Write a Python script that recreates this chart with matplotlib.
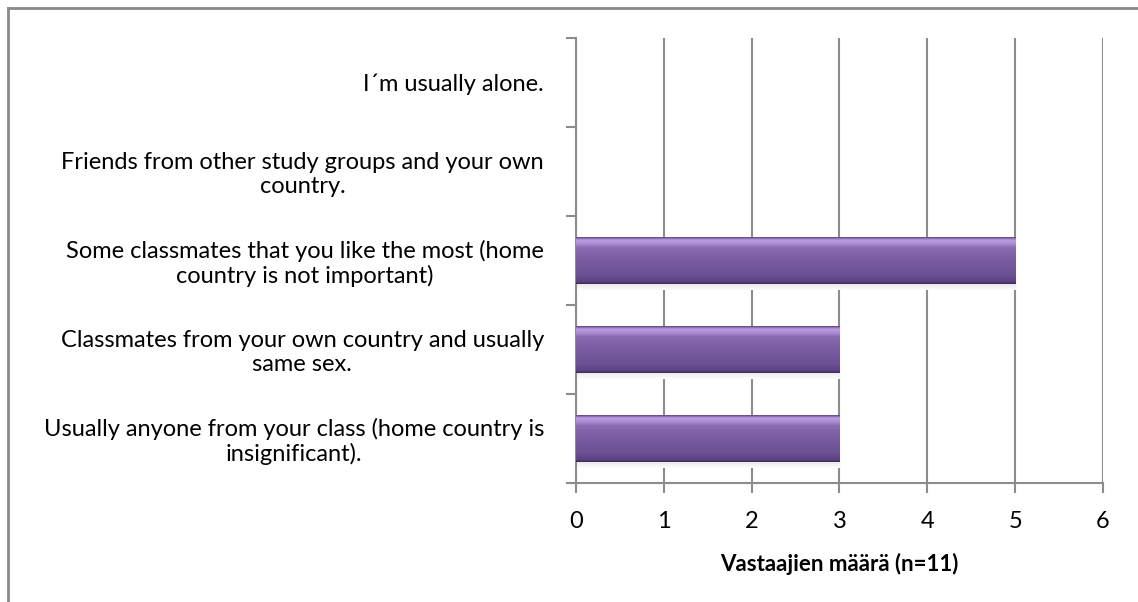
import numpy as np
import matplotlib.pyplot as plt
from matplotlib.lines import Line2D
from matplotlib.colors import LinearSegmentedColormap

# vastausvaihtoehdot (alhaalta ylös) ja vastaajien määrä
vaihtoehdot = [
    "Usually anyone from your class (home country is\ninsignificant).",
    "Classmates from your own country and usually\nsame sex.",
    "Some classmates that you like the most (home\ncountry is not important)",
    "Friends from other study groups and your own\ncountry.",
    "I´m usually alone.",
]
maarat = [3, 3, 5, 0, 0]
xtiks = [0, 1, 2, 3, 4, 5, 6]

plt.rcParams['font.family'] = ['Lato', 'DejaVu Sans']
harmaa = '#8c8c8c'

fig = plt.figure(figsize=(11.38, 6.02), dpi=100)
ax = fig.add_axes([0.506, 0.1977, 0.4632, 0.7392])

y = np.arange(len(vaihtoehdot))
palkit = ax.barh(y, maarat, height=0.52, color='#7b5ca3', zorder=3)

# liukuväri palkkeihin: tumma reuna, vaalea kaistale ylhäällä, tummempi alaosa
liuku = LinearSegmentedColormap.from_list('violetti', [
    (0.0, '#3e2b58'), (0.05, '#5c4382'), (0.2, '#6c5193'), (0.55, '#7b5da4'),
    (0.78, '#8a6cb4'), (0.86, '#ab8dd4'), (0.94, '#bb9de2'), (0.97, '#8f72b8'),
    (1.0, '#5d4684')])
grad = np.linspace(0, 1, 200).reshape(-1, 1)
for p in palkit:
    if p.get_width() <= 0:
        continue
    x0, y0 = p.get_x(), p.get_y()
    w, h = p.get_width(), p.get_height()
    # pehmeä varjo palkin alla
    for k, c in enumerate(['#ececec', '#f3f3f3', '#f9f9f9']):
        ax.add_patch(plt.Rectangle((x0, y0 - 0.025 * (k + 1)), w + 0.01, 0.025,
                                   color=c, zorder=2, lw=0))
    im = ax.imshow(grad, cmap=liuku, aspect='auto', origin='lower',
                   extent=[x0, x0 + w, y0, y0 + h], zorder=4)
    im.set_clip_path(p)

ax.set_xlim(0, 6)
ax.set_ylim(-0.5, len(vaihtoehdot) - 0.5)
ax.set_xticks(xtiks)
ax.set_yticks(y)
ax.set_yticklabels(vaihtoehdot, multialignment='center', linespacing=1.15)
ax.set_yticks(np.arange(-0.5, len(vaihtoehdot), 1), minor=True)
ax.tick_params(axis='y', which='major', length=0, pad=23, labelsize=17)
ax.tick_params(axis='y', which='minor', length=7, width=1.5, color=harmaa)
ax.tick_params(axis='x', length=7, width=1.5, color=harmaa, pad=13, labelsize=17)
ax.grid(axis='x', color=harmaa, lw=1.5, zorder=0)
ax.set_axisbelow(True)
for s in ['top', 'right']:
    ax.spines[s].set_visible(False)
for s in ['left', 'bottom']:
    ax.spines[s].set_color(harmaa)
    ax.spines[s].set_linewidth(1.5)
ax.set_xlabel("Vastaajien määrä (n=11)", fontsize=16, fontweight='bold', labelpad=15)

# kaavion kehys
fig.add_artist(Line2D([8 / 1138, 1], [1 - 8 / 602, 1 - 8 / 602], color='#8a8a8a', lw=2,
                      transform=fig.transFigure))
fig.add_artist(Line2D([8 / 1138, 8 / 1138], [0, 1 - 8 / 602], color='#8a8a8a', lw=2,
                      transform=fig.transFigure))

fig.savefig('out.png', dpi=100)
